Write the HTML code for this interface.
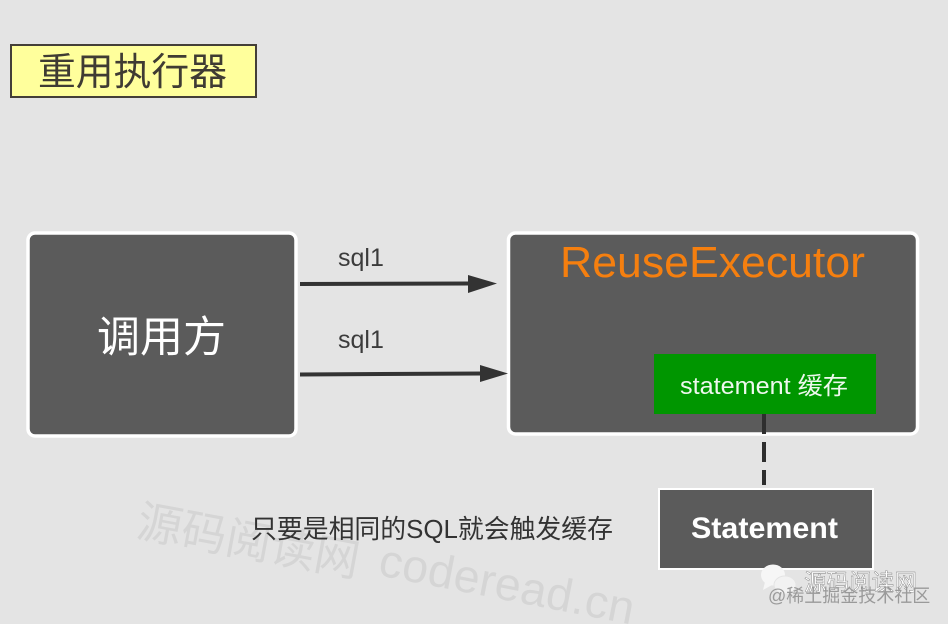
<!DOCTYPE html>
<html><head><meta charset="utf-8"><style>
html,body{margin:0;padding:0;background:#e4e4e4;}
svg{display:block;}
text{font-family:"Liberation Sans","Noto Sans CJK SC",sans-serif;}
</style></head><body>
<svg width="948" height="624" viewBox="0 0 948 624" xmlns="http://www.w3.org/2000/svg">
<rect width="948" height="624" fill="#e4e4e4"/>
<!-- title -->
<rect x="11" y="45" width="245" height="52" fill="#ffff9c" stroke="#443f38" stroke-width="2"/>
<text x="38" y="85" font-size="38" fill="#3f3b33" textLength="189" lengthAdjust="spacingAndGlyphs">重用执行器</text>
<!-- caller -->
<rect x="28" y="233" width="268" height="203" rx="7" fill="#5b5b5b" stroke="#fff" stroke-width="3.500"/>
<text x="97" y="352" font-size="43" fill="#fff" textLength="129" lengthAdjust="spacingAndGlyphs">调用方</text>
<!-- executor -->
<rect x="508.500" y="233" width="409" height="201" rx="7" fill="#5b5b5b" stroke="#fff" stroke-width="3.500"/>
<text x="560" y="277" font-size="44" fill="#f57f0f" textLength="305" lengthAdjust="spacingAndGlyphs">ReuseExecutor</text>
<rect x="654" y="354" width="222" height="60" fill="#009600"/>
<text x="680" y="394" font-size="24" fill="#eef8ee" textLength="168" lengthAdjust="spacingAndGlyphs">statement 缓存</text>
<!-- arrows -->
<text x="338" y="266" font-size="25" fill="#3c3c3c">sql1</text>
<text x="338" y="348" font-size="25" fill="#3c3c3c">sql1</text>
<line x1="300" y1="284" x2="470" y2="283.500" stroke="#333" stroke-width="4"/>
<polygon points="468,275 497,283.500 468,293" fill="#333"/>
<line x1="300" y1="374.500" x2="482" y2="373.500" stroke="#333" stroke-width="4"/>
<polygon points="480,365 508,373.500 480,382" fill="#333"/>
<!-- dashed -->
<line x1="764" y1="414" x2="764" y2="485" stroke="#2e2e2e" stroke-width="4" stroke-dasharray="20 8"/>
<!-- statement -->
<rect x="659" y="489" width="214" height="80" fill="#5b5b5b" stroke="#fff" stroke-width="2"/>
<text x="691" y="538" font-size="30" font-weight="bold" fill="#fff" textLength="147" lengthAdjust="spacingAndGlyphs">Statement</text>
<!-- watermark -->
<text transform="translate(135,536) rotate(10.500)" font-size="45" fill="#d5d5d5">源码阅读网</text>
<text transform="translate(377,575) rotate(11)" font-size="46.500" letter-spacing="0.300" fill="#d5d5d5">coderead.cn</text>
<!-- note -->
<text x="251" y="538" font-size="26" fill="#333" textLength="362" lengthAdjust="spacingAndGlyphs">只要是相同的SQL就会触发缓存</text>
<!-- wechat mark -->
<ellipse cx="773" cy="575" rx="12" ry="10.500" fill="#f6f6f6"/>
<polygon points="765,582 763,590 772,585" fill="#f6f6f6"/>
<ellipse cx="785" cy="585" rx="11" ry="9" fill="#f2f2f2" stroke="#e4e4e4"/>
<text x="804" y="590" font-size="23" fill="#fff" stroke="#777" stroke-width=".4" textLength="113" lengthAdjust="spacingAndGlyphs">源码阅读网</text>
<text x="768" y="602" font-size="18" fill="#9a9a9a">@稀土掘金技术社区</text>
</svg>
</body></html>
